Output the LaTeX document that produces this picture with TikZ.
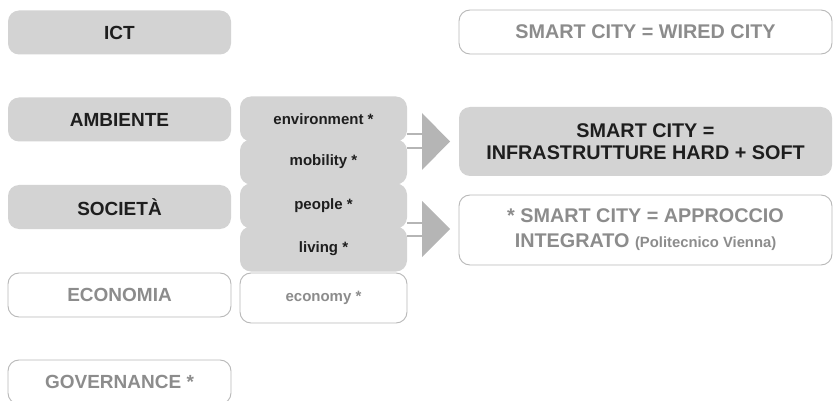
\documentclass[tikz,border=0pt]{standalone}
\usepackage{fontspec}
\setmainfont{Liberation Sans}
\definecolor{boxfill}{HTML}{D3D3D3}
\definecolor{boxline}{HTML}{B8B8B8}
\definecolor{darktext}{HTML}{1E1E1E}
\definecolor{greytext}{HTML}{8C8C8C}
\definecolor{arrowgrey}{HTML}{B5B5B5}
\tikzset{
  base/.style={rounded corners=11pt, inner sep=0pt, align=center, font=\bfseries\fontsize{19}{23}\selectfont},
  filled/.style={base, fill=boxfill, text=darktext},
  hollow/.style={base, draw=boxline, line width=0.9pt, fill=white, text=greytext},
  leftbox/.style={minimum width=223pt, minimum height=44pt},
  midbox/.style={minimum width=167pt, minimum height=45pt, font=\bfseries\fontsize{15}{17}\selectfont},
  rightbox/.style={minimum width=373pt},
  conn/.style={draw=arrowgrey, line width=1.3pt},
  tri/.style={fill=arrowgrey}
}
\begin{document}
\begin{tikzpicture}[x=1pt,y=-1pt]
\useasboundingbox (0,0) rectangle (833,401);
% left column
\node[filled,leftbox] (ict) at (119.5,32.5) {ICT};
\node[filled,leftbox] (amb) at (119.5,119.5) {AMBIENTE};
\node[filled,leftbox] (soc) at (119.5,207) {SOCIETÀ};
\node[hollow,leftbox] (eco) at (119.5,295) {ECONOMIA};
\node[hollow,leftbox] (gov) at (119.5,382) {GOVERNANCE *};
% middle column
\node[filled,midbox] (env) at (323.5,119) {environment *};
\node[filled,midbox] (mob) at (323.5,162) {mobility *};
\node[filled,midbox] (peo) at (323.5,206) {people *};
\node[filled,midbox] (liv) at (323.5,249) {living *};
\node[hollow,midbox,minimum height=50pt] (ecy) at (323.5,298) {economy *};
% right column
\node[hollow,rightbox,minimum height=44pt,font=\bfseries\fontsize{19.8}{23}\selectfont] (wired) at (645.5,32) {SMART CITY = WIRED CITY};
\node[filled,rightbox,minimum height=69pt,font=\bfseries\fontsize{19.8}{22}\selectfont] (hard) at (645.5,141.5) {SMART CITY =\\INFRASTRUTTURE HARD + SOFT};
\node[hollow,rightbox,minimum height=70pt,font=\bfseries\fontsize{19.8}{25}\selectfont] (integ) at (645.5,230) {* SMART CITY = APPROCCIO\\INTEGRATO {\fontsize{14.8}{17}\selectfont (Politecnico Vienna)}};
% arrows
\coordinate (t1a) at (422,113);
\coordinate (t1b) at (422,170);
\coordinate (t1c) at (450,141.5);
\fill[tri] (t1a) -- (t1c) -- (t1b) -- cycle;
\draw[conn] ([yshift=-15pt]env.east) -- ([yshift=-15pt]env.east -| t1a);
\draw[conn] ([yshift=14pt]mob.east) -- ([yshift=14pt]mob.east -| t1a);
\coordinate (t2a) at (422,201);
\coordinate (t2b) at (422,257);
\coordinate (t2c) at (450,229);
\fill[tri] (t2a) -- (t2c) -- (t2b) -- cycle;
\draw[conn] ([yshift=-17pt]peo.east) -- ([yshift=-17pt]peo.east -| t2a);
\draw[conn] ([yshift=13pt]liv.east) -- ([yshift=13pt]liv.east -| t2a);
\end{tikzpicture}
\end{document}
